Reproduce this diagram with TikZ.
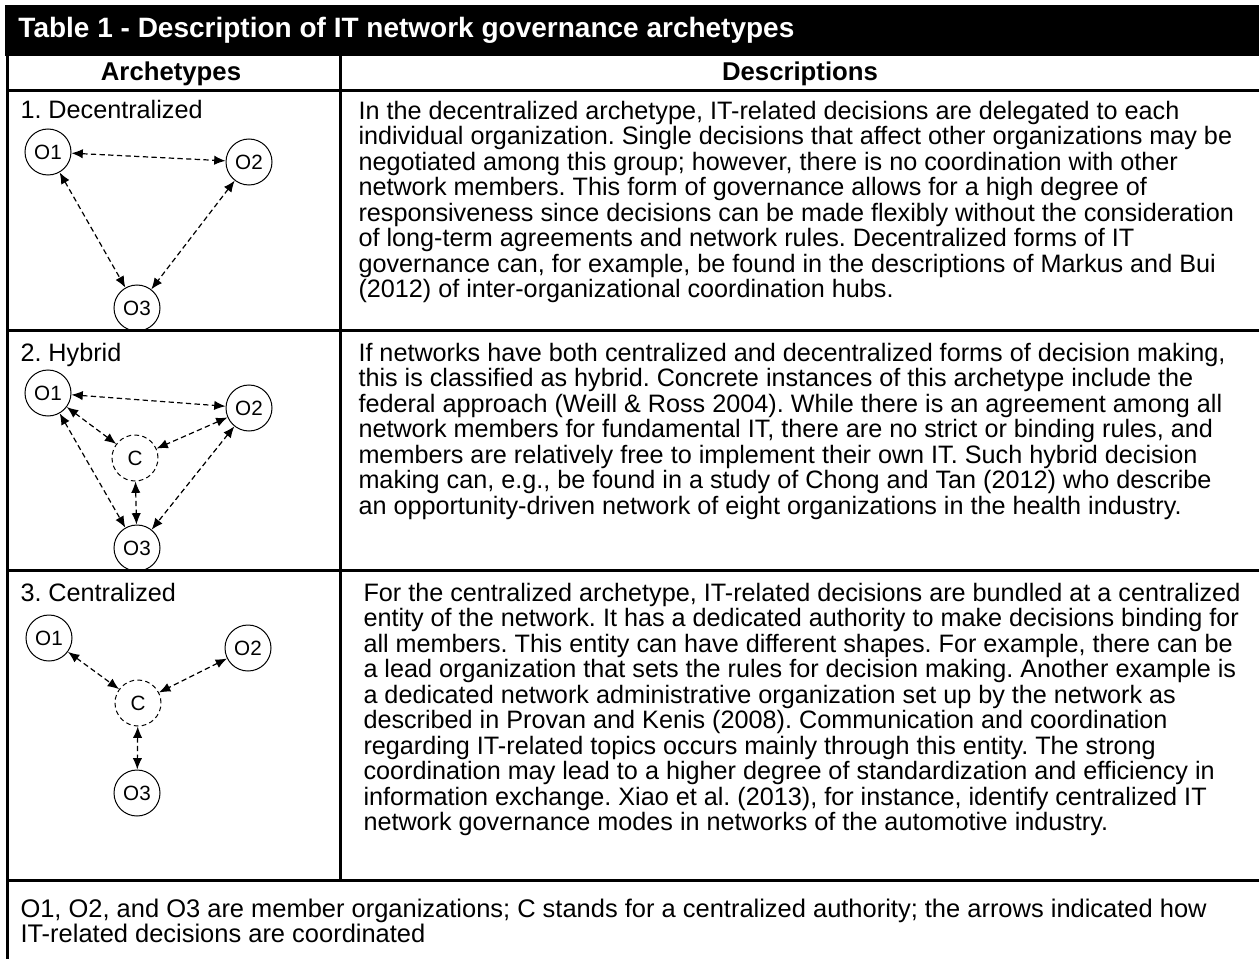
\documentclass[tikz,border=0pt]{standalone}
\usepackage{fontspec}
\setmainfont{Liberation Sans}
\usetikzlibrary{arrows.meta}
\frenchspacing
\tikzset{every picture/.style={line width=0.75pt}}
\tikzset{
org/.style={draw, circle, minimum size=34.5pt, inner sep=0pt, font=\fontsize{15.5}{16}\selectfont},
hub/.style={org, dash pattern=on 3.5pt off 2.5pt},
link/.style={line width=0.9pt, dash pattern=on 4pt off 2.5pt, {Latex[length=8.5pt,width=7pt]}-{Latex[length=8.5pt,width=7pt]}},
rule/.style={line width=2.25pt},
txt/.style={anchor=base west, inner sep=0pt, align=left, font=\fontsize{18.9}{19.1}\selectfont},
head/.style={anchor=base, inner sep=0pt, font=\fontsize{19.3}{19.1}\selectfont\bfseries}}

\begin{document}
\begin{tikzpicture}[x=0.75pt,y=0.75pt,yscale=-1,xscale=1]
\useasboundingbox (0,0) rectangle (1259,959);

% Title bar
\fill (5,5) rectangle (1259,56);
\node [txt, text=white, font=\fontsize{21}{24}\selectfont\bfseries] (title) at (18,38) {Table 1 - Description of IT network governance archetypes};

% Table rules
\draw [rule] (7,56) -- (7,959);
\draw [rule] (340,56) -- (340,880);
\draw [rule] (7,91) -- (1259,91);
\draw [rule] (7,330) -- (1259,330);
\draw [rule] (7,570) -- (1259,570);
\draw [rule] (7,880) -- (1259,880);

% Column heads
\node [head] (headA) at (171,81) {Archetypes};
\node [head] (headD) at (800,81) {Descriptions};

% Row 1: decentralized
\node [txt] (nameD) at (20,119) {1. Decentralized};
\node [org] (d1) at (48,152) {O1};
\node [org] (d2) at (249,162) {O2};
\node [org] (d3) at (137,308) {O3};
\draw [link] (d1) -- (d2);
\draw [link] (d1) -- (d3);
\draw [link] (d2) -- (d3);
% base of a multi-line node = its last line
\node [txt] (textD) at (358,297.5) {In the decentralized archetype, IT-related decisions are delegated to each\\
individual organization. Single decisions that affect other organizations may be\\
negotiated among this group; however, there is no coordination with other\\
network members. This form of governance allows for a high degree of\\
responsiveness since decisions can be made flexibly without the consideration\\
of long-term agreements and network rules. Decentralized forms of IT\\
governance can, for example, be found in the descriptions of Markus and Bui\\
(2012) of inter-organizational coordination hubs.};

% Row 2: hybrid
\node [txt] (nameH) at (20,361) {2. Hybrid};
\node [org] (h1) at (48,393) {O1};
\node [org] (h2) at (249,408) {O2};
\node [hub] (hc) at (135,458) {C};
\node [org] (h3) at (137,548) {O3};
\draw [link] (h1) -- (h2);
\draw [link] (h1) -- (hc);
\draw [link] (h2) -- (hc);
\draw [link] (hc) -- (h3);
\draw [link] (h1) -- (h3);
\draw [link] (h2) -- (h3);
\node [txt] (textH) at (358,514) {If networks have both centralized and decentralized forms of decision making,\\
this is classified as hybrid. Concrete instances of this archetype include the\\
federal approach (Weill \& Ross 2004). While there is an agreement among all\\
network members for fundamental IT, there are no strict or binding rules, and\\
members are relatively free to implement their own IT. Such hybrid decision\\
making can, e.g., be found in a study of Chong and Tan (2012) who describe\\
an opportunity-driven network of eight organizations in the health industry.};

% Row 3: centralized
\node [txt] (nameC) at (20,601) {3. Centralized};
\node [org] (c1) at (49,638) {O1};
\node [org] (c2) at (248,648) {O2};
\node [hub] (cc) at (138,703) {C};
\node [org] (c3) at (137,793) {O3};
\draw [link] (c1) -- (cc);
\draw [link] (c2) -- (cc);
\draw [link] (cc) -- (c3);
\node [txt] (textC) at (363,830.5) {For the centralized archetype, IT-related decisions are bundled at a centralized\\
entity of the network. It has a dedicated authority to make decisions binding for\\
all members. This entity can have different shapes. For example, there can be\\
a lead organization that sets the rules for decision making. Another example is\\
a dedicated network administrative organization set up by the network as\\
described in Provan and Kenis (2008). Communication and coordination\\
regarding IT-related topics occurs mainly through this entity. The strong\\
coordination may lead to a higher degree of standardization and efficiency in\\
information exchange. Xiao et al. (2013), for instance, identify centralized IT\\
network governance modes in networks of the automotive industry.};

% Note
\node [txt, font=\fontsize{19.1}{19.1}\selectfont] (note) at (20,942.5) {O1, O2, and O3 are member organizations; C stands for a centralized authority; the arrows indicated how\\
IT-related decisions are coordinated};

\end{tikzpicture}
\end{document}
